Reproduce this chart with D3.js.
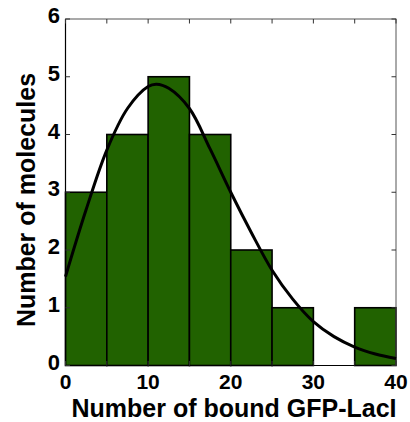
<!DOCTYPE html>
<html><head><meta charset="utf-8">
<script src="https://cdn.jsdelivr.net/npm/d3@7"></script>
<style>body{margin:0;background:#fff}svg{display:block}</style>
</head><body>
<script>
const binEdges = [0,5,10,15,20,25,30,35,40];
const counts = [3,4,5,4,2,1,0,1];
const fitX = [0,2.5,5,7.5,10,11,12.5,15,17.5,20,22.5,25,27.5,30,32.5,35,37.5,40];
const fitY = [1.54,2.7,3.73,4.45,4.83,4.87,4.8,4.45,3.75,3.0,2.3,1.65,1.15,0.76,0.5,0.32,0.2,0.12];
const xTickLabels = [0,10,20,30,40];
const yTickLabels = [0,1,2,3,4,5,6];

const W=410,H=422;
const m={l:65.5,r:396,t:19,b:365.5};
const svg=d3.select("body").append("svg").attr("width",W).attr("height",H);
const x=d3.scaleLinear().domain([0,40]).range([m.l,m.r]);
const y=d3.scaleLinear().domain([0,6]).range([m.b,m.t]);
const font="'Liberation Sans', Arial, sans-serif";

// bars
svg.append("g").selectAll("rect").data(counts).join("rect")
  .attr("x",(d,i)=>x(binEdges[i]))
  .attr("width",(d,i)=>x(binEdges[i+1])-x(binEdges[i]))
  .attr("y",d=>y(d))
  .attr("height",d=>y(0)-y(d))
  .attr("fill",d=>d>0?"#216200":"none")
  .attr("stroke",d=>d>0?"#000":"none")
  .attr("stroke-width",1.6);

// frame
svg.append("rect").attr("x",m.l).attr("y",m.t).attr("width",m.r-m.l).attr("height",m.b-m.t)
  .attr("fill","none").attr("stroke","#555").attr("stroke-width",1);
svg.append("line").attr("x1",m.l).attr("x2",m.l).attr("y1",m.t).attr("y2",m.b).attr("stroke","#000").attr("stroke-width",1.2);
svg.append("line").attr("x1",m.l).attr("x2",m.r).attr("y1",m.b).attr("y2",m.b).attr("stroke","#000").attr("stroke-width",1.2);

// ticks inward
const tl=4.5;
const xt=d3.range(0,41,5), yt=d3.range(0,7,1);
const tg=svg.append("g").attr("stroke","#333").attr("stroke-width",1);
xt.forEach(v=>{
  tg.append("line").attr("x1",x(v)).attr("x2",x(v)).attr("y1",m.t).attr("y2",m.t+tl);
  tg.append("line").attr("x1",x(v)).attr("x2",x(v)).attr("y1",m.b).attr("y2",m.b-tl);
});
yt.forEach(v=>{
  tg.append("line").attr("y1",y(v)).attr("y2",y(v)).attr("x1",m.r).attr("x2",m.r-tl);
  tg.append("line").attr("y1",y(v)).attr("y2",y(v)).attr("x1",m.l).attr("x2",m.l+tl);
});

// fit curve
const pts=fitX.map((v,i)=>[v,fitY[i]]);
svg.append("path").datum(pts)
  .attr("d",d3.line().x(d=>x(d[0])).y(d=>y(d[1])).curve(d3.curveCatmullRom))
  .attr("fill","none").attr("stroke","#000").attr("stroke-width",3);

// tick labels
svg.append("g").selectAll("text").data(xTickLabels).join("text")
  .attr("x",d=>x(d)).attr("y",389).attr("text-anchor","middle")
  .attr("font-family",font).attr("font-weight","bold").attr("font-size",21).text(d=>d);
svg.append("g").selectAll("text").data(yTickLabels).join("text")
  .attr("x",60).attr("y",d=>y(d)+4).attr("text-anchor","end")
  .attr("font-family",font).attr("font-weight","bold").attr("font-size",22).text(d=>d);

// titles
svg.append("text").attr("x",234).attr("y",416.5).attr("text-anchor","middle")
  .attr("font-family",font).attr("font-weight","bold").attr("font-size",25)
  .text("Number of bound GFP-LacI");
svg.append("text").attr("transform","translate(35,200) rotate(-90)").attr("text-anchor","middle")
  .attr("font-family",font).attr("font-weight","bold").attr("font-size",25)
  .text("Number of molecules");
</script>
</body></html>
